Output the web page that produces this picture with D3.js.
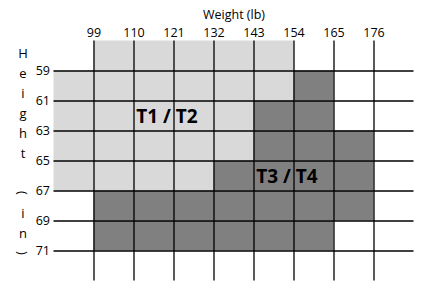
<!DOCTYPE html>
<html>
<head>
<meta charset="utf-8">
<script src="https://cdn.jsdelivr.net/npm/d3@7"></script>
<style>
  html, body { margin: 0; padding: 0; background: #fff; }
  svg text { font-family: "Open Sans", "DejaVu Sans", sans-serif; fill: #000; }
</style>
</head>
<body>
<svg id="chart" width="430" height="299"></svg>
<script>
// ---- data ----
const weights = [99, 110, 121, 132, 143, 154, 165, 176];   // x tick labels (lb)
const heights = [59, 61, 63, 65, 67, 69, 71];              // y tick labels (in)
// each row band starts at rowStart (height) and spans 2 in
const rowStart  = [57, 59, 61, 63, 65, 67, 69];
// T1/T2 (light) weight range per row, null = none
const lightFrom = [99, 88, 88, 88, 88, null, null];
const lightTo   = [154, 154, 143, 143, 132, null, null];
// T3/T4 (dark) weight range per row
const darkFrom  = [null, 154, 143, 143, 132, 99, 99];
const darkTo    = [null, 165, 165, 176, 176, 176, 165];
const yTitle = ["H","e","i","g","h","t"," ","(","i","n",")"];

// ---- scales ----
const svg = d3.select("#chart");
const x = d3.scaleLinear().domain([99, 176]).range([93.5, 373.5]);
const y = d3.scaleLinear().domain([59, 71]).range([70.5, 250.5]);
const xMin = 88, xMax = 187, yMin = 57, yMax = 73;

// ---- fills ----
const g = svg.append("g");
rowStart.forEach((h, i) => {
  if (lightFrom[i] !== null) {
    g.append("rect")
      .attr("x", x(lightFrom[i])).attr("y", y(h))
      .attr("width", x(lightTo[i]) - x(lightFrom[i]))
      .attr("height", y(h + 2) - y(h))
      .attr("fill", "#d9d9d9");
  }
  if (darkFrom[i] !== null) {
    g.append("rect")
      .attr("x", x(darkFrom[i])).attr("y", y(h))
      .attr("width", x(darkTo[i]) - x(darkFrom[i]))
      .attr("height", y(h + 2) - y(h))
      .attr("fill", "#808080");
  }
});

// ---- grid axes ----
const xAxis = d3.axisTop(x).tickValues(weights)
  .tickSize(-(y(yMax) - y(yMin))).tickPadding(4).tickFormat(d3.format("d"));
const gx = svg.append("g").attr("transform", `translate(0,${y(yMin)})`).call(xAxis);
const yAxis = d3.axisLeft(y).tickValues(heights)
  .tickSize(-(x(xMax) - x(xMin))).tickPadding(3.5).tickFormat(d3.format("d"));
const gy = svg.append("g").attr("transform", `translate(${x(xMin)},0)`).call(yAxis);

[gx, gy].forEach(a => {
  a.select(".domain").remove();
  a.selectAll(".tick line").attr("stroke", "#000").attr("stroke-width", 1.3);
  a.selectAll(".tick text").attr("font-size", 12.5)
    .attr("font-family", '"Open Sans", sans-serif').attr("fill", "#000");
});

// ---- titles ----
svg.append("text").attr("x", 234).attr("y", 18.5)
  .attr("text-anchor", "middle").attr("font-size", 12.5)
  .text("Weight (lb)");

yTitle.forEach((c, i) => {
  const cy = 53 + i * 20;
  const t = svg.append("text").attr("x", 23).attr("y", cy)
    .attr("text-anchor", "middle").attr("dy", "0.35em")
    .attr("font-size", 13).text(c);
  if (c === "(" || c === ")") t.attr("transform", `rotate(90,23,${cy})`);
});

// ---- region labels ----
svg.append("text").attr("x", 167).attr("y", 123)
  .attr("text-anchor", "middle").attr("font-size", 19).attr("font-weight", "bold")
  .text("T1 / T2");
svg.append("text").attr("x", 287).attr("y", 183)
  .attr("text-anchor", "middle").attr("font-size", 19).attr("font-weight", "bold")
  .text("T3 / T4");
</script>
</body>
</html>
